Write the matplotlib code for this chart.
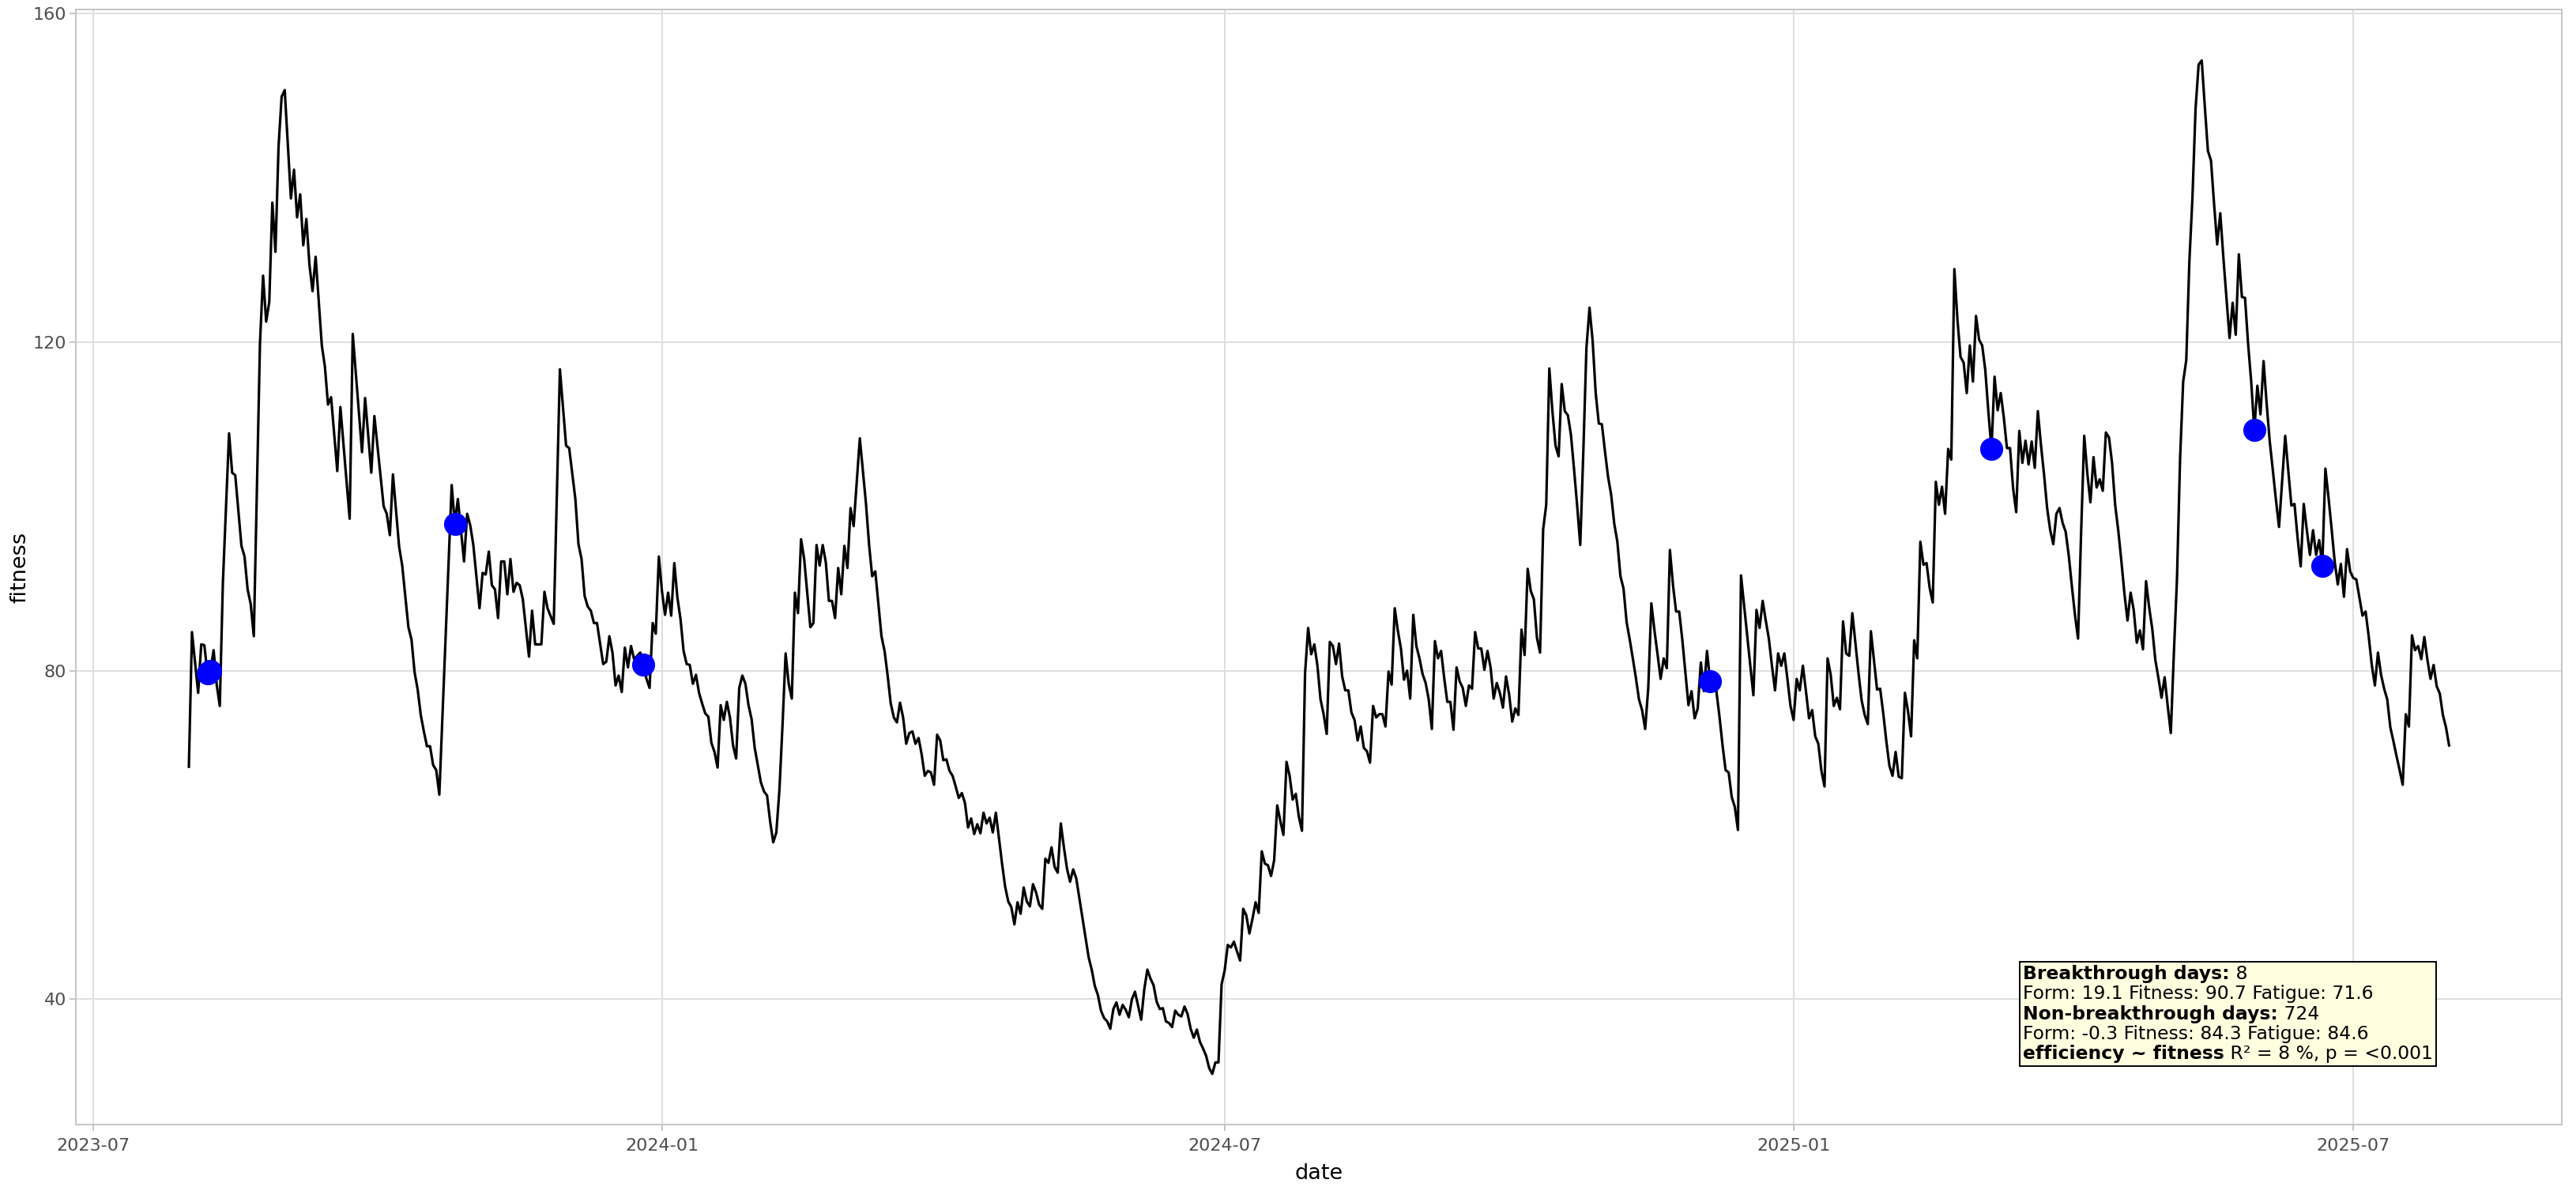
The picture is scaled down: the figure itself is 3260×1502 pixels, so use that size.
import numpy as np
import pandas as pd
import matplotlib
matplotlib.use('Agg')
import matplotlib.pyplot as plt
from matplotlib import dates
from matplotlib.offsetbox import TextArea, HPacker, VPacker, AnchoredOffsetbox

# daily fitness (day 0 = 2023-08-01)
startDate = pd.Timestamp('2023-08-01')

dayOffset = ([0, 1, 3, 4, 5, 6, 7, 8, 9, 10, 11, 13, 14, 15, 17, 18, 19, 20, 21, 23,
              24, 25, 26, 27, 28, 29, 30, 31, 33, 34, 35, 36, 37, 38, 39, 40, 41, 43, 44, 45,
              46, 48, 49, 52, 53, 56, 57, 59, 60, 63, 64, 65, 66, 68, 69, 71, 72, 73, 74, 75,
              76, 77, 78, 79, 80, 81, 85, 86, 87, 89, 90, 91, 92, 94, 95, 96, 97, 98, 99, 100,
              101, 102, 103, 104, 105, 106, 107, 108, 110, 111, 112, 114, 115, 116, 118, 120, 122, 123]
             + list(range(125, 133)) + list(range(134, 145)) + list(range(146, 200))
             + list(range(201, 216)) + [217] + list(range(219, 493)) + list(range(494, 732)))

fitness = [
    # days 0 - 123
    68.3, 84.7, 77.3, 83.2, 83.1, 79.7, 80.0, 82.5, 78.3, 75.7,
    90.7, 108.9, 104.1, 103.8, 95.2, 93.9, 89.9, 88.1, 84.2, 119.9,
    128.1, 122.5, 124.9, 137.0, 131.0, 143.8, 149.9, 150.7, 137.5, 141.0,
    135.2, 138.0, 131.8, 135.0, 129.4, 126.2, 130.4, 119.6, 117.0, 112.4,
    113.3, 104.3, 112.1, 98.5, 121.0, 106.6, 113.2, 104.1, 111.0, 100.0,
    99.1, 96.5, 103.9, 95.1, 92.8, 85.3, 83.8, 79.8, 77.7, 74.6,
    72.6, 70.8, 70.8, 68.5, 67.9, 64.9, 102.6, 97.9, 100.9, 93.3,
    99.1, 97.7, 95.3, 87.6, 91.9, 91.7, 94.5, 90.4, 89.9, 86.4,
    93.3, 93.3, 89.3, 93.6, 89.6, 90.7, 90.4, 88.7, 81.7, 87.3,
    83.2, 83.2, 89.6, 87.6, 85.7, 116.7, 107.4, 107.1,
    # days 125 - 132
    100.9, 95.4, 93.6, 89.1, 87.8, 87.3, 85.8, 85.8,
    # days 134 - 144
    80.8, 81.1, 84.2, 82.2, 78.2, 79.4, 77.4, 82.8, 80.4, 83.0, 81.4,
    # days 146 - 199
    82.2, 80.7, 79.0, 77.9, 85.8, 84.5, 93.9, 89.7, 86.8, 89.5,
    86.7, 93.1, 88.9, 86.3, 82.4, 80.8, 80.7, 78.4, 79.5, 77.3,
    76.0, 74.8, 74.4, 71.2, 70.1, 68.2, 75.8, 74.0, 76.2, 74.3,
    70.9, 69.3, 77.9, 79.4, 78.4, 75.8, 74.1, 70.6, 68.5, 66.4,
    65.3, 64.8, 61.6, 59.1, 60.3, 65.5, 73.4, 82.1, 78.4, 76.6,
    89.5, 87.0, 96.0, 93.6,
    # days 201 - 215, 217
    85.3, 85.8, 95.3, 92.8, 95.3, 93.2, 88.5, 88.5, 86.4, 92.5,
    89.3, 95.2, 92.5, 99.8, 97.6, 108.3,
    # days 219 - 492
    100.3, 95.3, 91.5, 92.1, 88.2, 84.2, 82.4, 79.4, 76.0, 74.3,
    73.7, 76.1, 74.3, 71.1, 72.4, 72.6, 71.1, 71.8, 69.8, 67.2,
    67.8, 67.6, 66.1, 72.2, 71.5, 69.1, 69.2, 67.8, 67.2, 65.9,
    64.5, 65.1, 63.9, 60.9, 62.0, 60.1, 61.3, 60.2, 62.7, 61.4,
    62.1, 60.3, 62.7, 59.6, 56.5, 53.7, 51.9, 51.2, 49.1, 51.8,
    50.4, 53.6, 51.9, 51.3, 54.0, 53.0, 51.5, 51.0, 57.1, 56.6,
    58.5, 56.1, 55.4, 61.4, 58.5, 55.9, 54.3, 55.8, 54.7, 52.3,
    49.9, 47.5, 45.1, 43.6, 41.6, 40.5, 38.6, 37.7, 37.3, 36.4,
    38.8, 39.6, 38.1, 39.3, 38.7, 37.8, 40.0, 40.9, 39.2, 37.5,
    41.2, 43.6, 42.5, 41.7, 39.7, 38.8, 38.9, 37.3, 37.1, 36.6,
    38.6, 38.1, 37.9, 39.1, 38.2, 36.4, 35.3, 36.3, 34.8, 34.0,
    33.1, 31.6, 30.9, 32.3, 32.3, 41.8, 43.5, 46.6, 46.3, 47.0,
    45.8, 44.7, 51.0, 50.2, 48.0, 49.8, 51.8, 50.5, 58.0, 56.5,
    56.3, 55.0, 56.9, 63.6, 61.7, 60.0, 68.9, 67.2, 64.3, 65.0,
    62.2, 60.5, 79.7, 85.2, 82.0, 83.2, 80.6, 76.5, 74.7, 72.3,
    83.5, 83.0, 80.8, 83.3, 79.3, 77.6, 77.6, 74.9, 74.0, 71.5,
    73.2, 70.6, 70.2, 68.8, 75.7, 74.3, 74.7, 74.7, 73.2, 79.9,
    78.3, 87.6, 84.9, 82.7, 78.9, 80.0, 76.6, 86.8, 83.0, 81.5,
    79.6, 78.5, 76.5, 72.9, 83.6, 81.5, 82.4, 79.1, 76.2, 76.2,
    72.8, 80.4, 78.7, 77.9, 75.7, 78.2, 77.8, 84.7, 82.7, 82.7,
    80.1, 82.4, 80.4, 76.6, 78.5, 77.3, 75.5, 79.3, 77.1, 73.8,
    75.4, 74.6, 85.0, 81.9, 92.4, 89.7, 88.7, 84.0, 82.2, 97.2,
    100.2, 116.8, 111.6, 107.4, 106.1, 114.9, 111.6, 111.1, 108.7, 104.5,
    100.1, 95.3, 106.7, 119.3, 124.2, 120.2, 113.8, 110.1, 110.0, 106.7,
    103.6, 101.4, 97.9, 95.7, 91.5, 90.0, 85.9, 83.8, 81.5, 79.1,
    76.5, 75.2, 72.9, 77.9, 88.2, 84.9, 82.0, 79.0, 81.5, 80.3,
    94.7, 90.4, 87.2, 87.2, 83.8, 79.8, 75.8, 77.5, 74.2, 75.4,
    81.0, 77.5, 82.4, 78.7,
    # days 494 - 731
    77.6, 74.5, 71.0, 67.9, 67.6, 64.6, 63.4, 60.6,
    91.6, 87.9, 84.1, 80.6, 77.0, 87.4, 85.2, 88.5, 86.1, 83.9,
    80.6, 77.6, 82.1, 80.6, 82.1, 79.0, 75.7, 74.0, 79.0, 77.6,
    80.6, 77.5, 74.2, 75.2, 72.0, 71.1, 67.8, 65.9, 81.5, 79.5,
    75.7, 76.7, 75.3, 86.0, 82.1, 81.8, 87.0, 83.4, 79.7, 76.4,
    74.6, 73.5, 84.8, 81.2, 77.7, 77.8, 74.8, 71.4, 68.4, 67.2,
    70.1, 67.1, 66.9, 77.3, 75.1, 72.0, 83.7, 81.5, 95.7, 92.9,
    93.1, 90.1, 88.3, 103.0, 100.2, 102.4, 99.1, 107.0, 105.7, 128.9,
    122.7, 118.2, 117.5, 113.8, 119.6, 115.2, 123.2, 120.3, 119.6, 116.6,
    111.5, 107.0, 115.8, 111.7, 113.8, 110.8, 107.1, 107.1, 102.2, 99.3,
    109.2, 105.3, 108.0, 105.1, 107.9, 104.7, 111.6, 107.5, 103.9, 99.8,
    97.1, 95.4, 99.1, 99.8, 98.0, 96.9, 94.0, 90.3, 86.8, 83.9,
    96.9, 108.6, 104.0, 100.5, 106.0, 102.3, 103.3, 101.9, 109.0, 108.4,
    105.3, 100.2, 97.1, 93.4, 89.4, 86.1, 89.5, 87.4, 83.4, 84.9,
    82.6, 90.9, 87.7, 85.1, 81.3, 79.1, 76.7, 79.2, 75.7, 72.4,
    82.2, 91.2, 105.8, 115.2, 117.8, 129.8, 137.6, 148.4, 153.8, 154.3,
    148.7, 143.3, 142.1, 136.8, 131.9, 135.7, 130.3, 125.4, 120.5, 124.8,
    120.9, 130.7, 125.5, 125.4, 119.8, 115.2, 109.3, 114.7, 111.2, 117.7,
    112.5, 107.9, 104.4, 100.8, 97.5, 103.0, 108.6, 104.4, 100.1, 100.3,
    96.2, 92.7, 100.3, 97.1, 94.1, 97.1, 94.1, 95.9, 92.8, 104.6,
    101.1, 97.3, 93.3, 90.5, 93.0, 89.0, 94.8, 92.1, 91.3, 91.1,
    88.9, 86.7, 87.2, 84.2, 80.7, 78.2, 82.2, 79.5, 77.8, 76.5,
    73.1, 71.4, 69.6, 67.9, 66.1, 74.7, 73.2, 84.3, 82.5, 83.0,
    81.4, 84.1, 81.3, 79.0, 80.7, 78.1, 77.2, 74.6, 73.1, 70.9,
]

breakthroughDay = [6, 7, 86, 147, 492, 583, 668, 690]

# summary box
groupLabels = ['Breakthrough days:', 'Non-breakthrough days:']
groupCounts = [8, 724]
groupForm = [19.1, -0.3]
groupFitness = [90.7, 84.3]
groupFatigue = [71.6, 84.6]
modelLabel = 'efficiency ~ fitness'
rSquared = 8
pValue = '<0.001'

yTicks = [40, 80, 120, 160]

assert len(dayOffset) == len(fitness), (len(dayOffset), len(fitness))


def expand(lo, hi, mult=0.05):
    span = hi - lo
    return lo - span * mult, hi + span * mult


def summaryBox(ax, size):
    bold = dict(size=size, weight='bold', color='black')
    plain = dict(size=size, color='black')
    rows = []
    for i in range(len(groupLabels)):
        rows.append(HPacker(children=[TextArea(groupLabels[i], textprops=bold),
                                      TextArea(' ' + str(groupCounts[i]), textprops=plain)],
                            pad=0, sep=0, align='baseline'))
        line = 'Form: {0} Fitness: {1} Fatigue: {2}'.format(groupForm[i], groupFitness[i], groupFatigue[i])
        rows.append(TextArea(line, textprops=plain))
    rows.append(HPacker(children=[TextArea(modelLabel, textprops=bold),
                                  TextArea(' R\u00b2 = {0} %, p = {1}'.format(rSquared, pValue), textprops=plain)],
                        pad=0, sep=0, align='baseline'))
    box = VPacker(children=rows, pad=0, sep=1.6, align='left')
    anchored = AnchoredOffsetbox(loc='lower right', child=box, pad=0.17, borderpad=0,
                                 frameon=True, prop=dict(size=size),
                                 bbox_to_anchor=(0.9493, 0.0525), bbox_transform=ax.transAxes)
    anchored.patch.set_boxstyle('square', pad=0)
    anchored.patch.set_facecolor('#FFFFE0')
    anchored.patch.set_edgecolor('black')
    anchored.patch.set_linewidth(1.4)
    ax.add_artist(anchored)


def plotFitness():
    when = startDate + pd.to_timedelta(dayOffset, unit='D')
    x = dates.date2num(when.to_pydatetime())
    y = np.array(fitness)

    lookup = dict(zip(dayOffset, fitness))
    bWhen = startDate + pd.to_timedelta(breakthroughDay, unit='D')
    bx = dates.date2num(bWhen.to_pydatetime())
    by = [lookup[d] for d in breakthroughDay]

    fig = plt.figure(figsize=(32.6, 15.02), dpi=100)
    ax = fig.add_axes([0.02945, 0.0526, 0.96515, 0.93914])

    ax.plot(x, y, color='black', linewidth=2.3, zorder=3)
    ax.scatter(bx, by, s=21 ** 2, color='#0000FF', linewidths=0, zorder=4)

    ax.set_xlim(*expand(x.min(), x.max()))
    ax.set_ylim(*expand(y.min(), y.max()))

    ax.xaxis.set_major_locator(dates.MonthLocator(bymonth=[1, 7]))
    ax.xaxis.set_major_formatter(dates.DateFormatter('%Y-%m'))
    ax.set_yticks(yTicks)

    ax.grid(True, color='#DEDEDE', linewidth=1.4)
    ax.set_axisbelow(True)
    for side in ax.spines.values():
        side.set_color('#C4C4C4')
        side.set_linewidth(1.4)

    ax.tick_params(axis='both', length=5.5, width=1.4, color='#C4C4C4',
                   labelsize=16, labelcolor='#4D4D4D')
    ax.tick_params(axis='x', pad=6.5)
    ax.tick_params(axis='y', pad=3)

    ax.set_xlabel('date', fontsize=19.5, va='center')
    ax.xaxis.set_label_coords(0.5, -0.0443)
    ax.set_ylabel('fitness', fontsize=19.5, va='center')
    ax.yaxis.set_label_coords(-0.0226, 0.5)

    summaryBox(ax, 16.9)

    fig.savefig('out.png', dpi=100, facecolor='white')


plotFitness()
